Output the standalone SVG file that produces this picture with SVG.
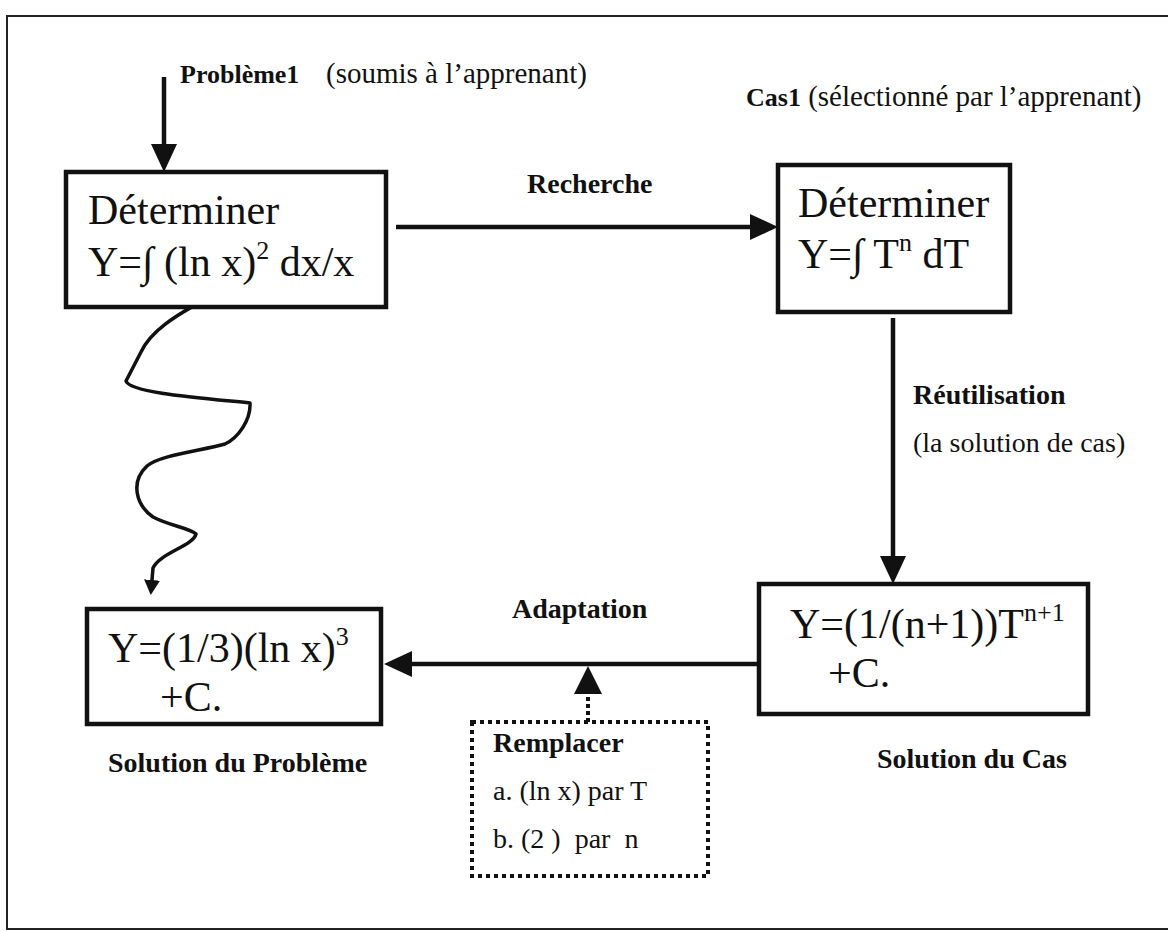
<svg xmlns="http://www.w3.org/2000/svg" width="1168" height="931" viewBox="0 0 1168 931">
  <defs>
    <style>
      .frame { fill: none; stroke: #222; stroke-width: 2; }
      .box { fill: #fff; stroke: #111; stroke-width: 4.5; }
      .dotbox { fill: none; stroke: #111; stroke-width: 4; stroke-dasharray: 4 4; }
      .edge { fill: none; stroke: #111; stroke-width: 4.5; }
      .dotted { fill: none; stroke: #111; stroke-width: 4; stroke-dasharray: 4 3; }
      .wave { fill: none; stroke: #111; stroke-width: 3.5; stroke-linejoin: round; stroke-linecap: round; }
      .head { fill: #111; }
      .math { font-family: "Liberation Serif", "Times New Roman", serif; font-size: 42px; fill: #111; }
      .sup { font-size: 26px; }
      .lbl { font-family: "Liberation Serif", "Times New Roman", serif; font-size: 28px; fill: #111; }
      .b { font-weight: bold; }
    </style>
    <marker id="arrow" markerUnits="userSpaceOnUse" markerWidth="30" markerHeight="28" refX="0" refY="13" orient="auto">
      <path d="M0,0 L28,13 L0,26 z" class="head"/>
    </marker>
    <marker id="arrowSmall" markerUnits="userSpaceOnUse" markerWidth="18" markerHeight="18" refX="0" refY="8" orient="auto">
      <path d="M0,0 L15,8 L0,16 z" class="head"/>
    </marker>
  </defs>

  <rect width="1168" height="931" fill="#fff"/>

  <!-- outer frame -->
  <g id="frame">
    <path class="frame" d="M1170,16 L7,16 L7,929 L1170,929"/>
  </g>

  <!-- connectors -->
  <g id="connectors">
    <!-- incoming problem -->
    <line class="edge" x1="164" y1="77" x2="164" y2="144" marker-end="url(#arrow)"/>
    <!-- Recherche -->
    <line class="edge" x1="396" y1="227" x2="750" y2="227" marker-end="url(#arrow)"/>
    <!-- Réutilisation -->
    <line class="edge" x1="893" y1="318" x2="893" y2="556" marker-end="url(#arrow)"/>
    <!-- Adaptation -->
    <line class="edge" x1="757" y1="664" x2="412" y2="664" marker-end="url(#arrow)"/>
    <!-- Remplacer feeding Adaptation -->
    <line class="dotted" x1="588" y1="722" x2="588" y2="694"/>
    <path class="head" d="M574,694 L588,666 L602,694 z"/>
    <!-- direct, winding path from problem to solution -->
    <path class="wave" d="M197,304 C185,311 152,328 141,352 L126,381 C130,393 200,398 250,403 C251,420 238,438 225,444 C200,451 160,455 147,466 C130,482 136,505 153,517 C170,526 190,528 196,534 C193,546 160,553 153,568 L152,580" marker-end="url(#arrowSmall)"/>
  </g>

  <!-- Problème1 -->
  <g id="problem">
    <rect class="box" x="66" y="172" width="320" height="135"/>
    <text class="math" x="88" y="224">Déterminer</text>
    <text class="math" x="88" y="276">Y=∫ (ln x)<tspan class="sup" dy="-17">2</tspan><tspan dy="17"> dx/x</tspan></text>
  </g>

  <!-- Cas1 -->
  <g id="case">
    <rect class="box" x="778" y="165" width="232" height="147"/>
    <text class="math" x="798" y="217">Déterminer</text>
    <text class="math" x="798" y="268">Y=∫ T<tspan class="sup" dy="-17">n</tspan><tspan dy="17"> dT</tspan></text>
  </g>

  <!-- Solution du Cas -->
  <g id="case-solution">
    <rect class="box" x="759" y="584" width="329" height="130"/>
    <text class="math" x="790" y="638">Y=(1/(n+1))T<tspan class="sup" dy="-17">n+1</tspan></text>
    <text class="math" x="828" y="687">+C.</text>
  </g>

  <!-- Solution du Problème -->
  <g id="problem-solution">
    <rect class="box" x="87" y="609" width="294" height="115"/>
    <text class="math" x="108" y="662">Y=(1/3)(ln x)<tspan class="sup" dy="-17">3</tspan></text>
    <text class="math" x="160" y="711">+C.</text>
  </g>

  <!-- Remplacer -->
  <g id="replace">
    <rect class="dotbox" x="472" y="722" width="236" height="154"/>
    <text class="lbl b" x="493" y="752">Remplacer</text>
    <text class="lbl" x="493" y="800">a. (ln x) par T</text>
    <text class="lbl" x="493" y="848" xml:space="preserve">b. (2 )  par  n</text>
  </g>

  <!-- labels -->
  <g id="labels">
    <text class="lbl" x="180" y="83"><tspan class="b" font-size="26">Problème1</tspan><tspan x="326" font-size="29">(soumis à l’apprenant)</tspan></text>
    <text class="lbl" x="746" y="106"><tspan class="b" font-size="26">Cas1</tspan><tspan font-size="29"> (sélectionné par l’apprenant)</tspan></text>
    <text class="lbl b" x="527" y="193">Recherche</text>
    <text class="lbl b" x="913" y="404">Réutilisation</text>
    <text class="lbl" x="913" y="452">(la solution de cas)</text>
    <text class="lbl b" x="512" y="618">Adaptation</text>
    <text class="lbl b" x="108" y="772">Solution du Problème</text>
    <text class="lbl b" x="877" y="768">Solution du Cas</text>
  </g>
</svg>
